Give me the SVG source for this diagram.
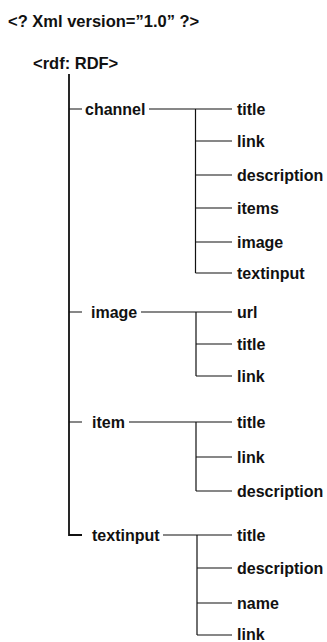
<svg xmlns="http://www.w3.org/2000/svg" width="327" height="642" viewBox="0 0 327 642">
<style>
text{font-family:"Liberation Sans",Arial,sans-serif;font-size:16px;font-weight:bold;fill:#111}
.h{font-size:16.5px}
.l{stroke:#111;stroke-width:1.2;fill:none}
.m{stroke:#111;stroke-width:1.8;fill:none}
</style>
<rect width="327" height="642" fill="#fff"/>
<g id="header"><text class="h" x="8" y="27">&lt;? Xml version=”1.0” ?&gt;</text></g>
<g id="rdf"><text class="h" x="33" y="69">&lt;rdf: RDF&gt;</text></g>
<g id="connectors">
<path class="m" d="M69 74V535H82"/>
<path class="l" d="M69 109H82M69 312H82M69 422H82"/>
<path class="l" d="M149 109H232M195.5 109V273M195.5 141H232M195.5 175H232M195.5 208H232M195.5 242H232M195.5 273H232"/>
<path class="l" d="M141 312H232M196 312V376M196 344H232M196 376H232"/>
<path class="l" d="M129 422H232M196 422V491M196 457H232M196 491H232"/>
<path class="l" d="M163 535H232M197 535V635M197 568H232M197 603H232M197 635H232"/>
</g>
<g id="channel"><text x="85" y="114.5">channel</text></g>
<g id="channel-children">
<text x="237" y="114.5">title</text>
<text x="237" y="146.5">link</text>
<text x="237" y="180.5">description</text>
<text x="237" y="213.5">items</text>
<text x="237" y="247.5">image</text>
<text x="237" y="278.5">textinput</text>
</g>
<g id="image"><text x="91" y="317.5">image</text></g>
<g id="image-children">
<text x="237" y="317.5">url</text>
<text x="237" y="349.5">title</text>
<text x="237" y="381.5">link</text>
</g>
<g id="item"><text x="92" y="427.5">item</text></g>
<g id="item-children">
<text x="237" y="427.5">title</text>
<text x="237" y="462.5">link</text>
<text x="237" y="496.5">description</text>
</g>
<g id="textinput"><text x="92" y="540.5">textinput</text></g>
<g id="textinput-children">
<text x="237" y="540.5">title</text>
<text x="237" y="573.5">description</text>
<text x="237" y="608.5">name</text>
<text x="237" y="640">link</text>
</g>
</svg>
